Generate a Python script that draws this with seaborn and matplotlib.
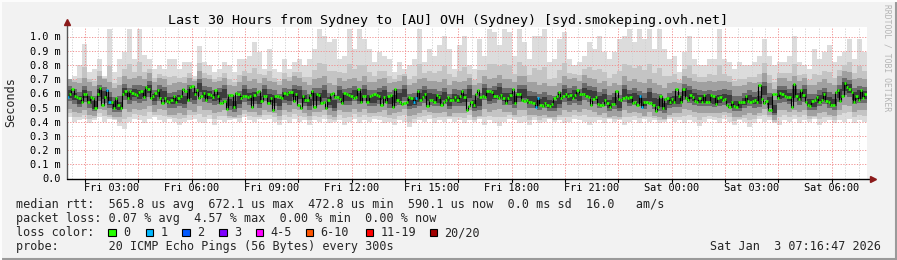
import numpy as np
import pandas as pd
import matplotlib
matplotlib.use("Agg")
import matplotlib.pyplot as plt
import seaborn as sns
from matplotlib.lines import Line2D
from matplotlib.patches import Rectangle

# ---------------- data (values in milliseconds) ----------------
title = "Last 30 Hours from Sydney to [AU] OVH (Sydney) [syd.smokeping.ovh.net]"
time_start_h = 1.32     # hours after Fri 00:00 at left edge
time_end_h = 31.31      # Sat 07:19
tick_hours = [3, 6, 9, 12, 15, 18, 21, 24, 27, 30]
tick_labels = ["Fri 03:00", "Fri 06:00", "Fri 09:00", "Fri 12:00", "Fri 15:00",
               "Fri 18:00", "Fri 21:00", "Sat 00:00", "Sat 03:00", "Sat 06:00"]
y_ticks = [0.0, 0.1, 0.2, 0.3, 0.4, 0.5, 0.6, 0.7, 0.8, 0.9, 1.0]

median_a = [0.573, 0.596, 0.627, 0.58, 0.573, 0.566, 0.538, 0.592, 0.592, 0.542, 0.573, 0.566,
            0.495, 0.596, 0.636, 0.521, 0.573, 0.625, 0.538, 0.538, 0.495, 0.566, 0.521, 0.495,
            0.596, 0.613, 0.566, 0.613, 0.601, 0.596, 0.585, 0.608, 0.613, 0.573, 0.643, 0.632,
            0.566, 0.58, 0.601, 0.62, 0.566, 0.531, 0.566, 0.549, 0.542, 0.554, 0.578, 0.538,
            0.566, 0.578, 0.632, 0.613, 0.556, 0.643, 0.648, 0.592, 0.625, 0.566, 0.578, 0.601,
            0.556, 0.596, 0.585, 0.573, 0.62, 0.578, 0.531, 0.531, 0.545, 0.486, 0.589, 0.589,
            0.502, 0.601, 0.596, 0.566, 0.578, 0.578, 0.573, 0.58, 0.507, 0.585, 0.608, 0.615]
median_b = [0.549, 0.58, 0.58, 0.531, 0.566, 0.479, 0.578, 0.578, 0.573, 0.566, 0.601, 0.592,
            0.608, 0.608, 0.549, 0.592, 0.521, 0.495, 0.578, 0.556, 0.556, 0.585, 0.615, 0.502,
            0.592, 0.585, 0.531, 0.542, 0.495, 0.556, 0.592, 0.601, 0.573, 0.573, 0.561, 0.531,
            0.601, 0.596, 0.585, 0.578, 0.566, 0.573, 0.632, 0.542, 0.578, 0.58, 0.538, 0.578,
            0.585, 0.596, 0.585, 0.578, 0.521, 0.573, 0.542, 0.578, 0.585, 0.502, 0.632, 0.556,
            0.542, 0.526, 0.531, 0.542, 0.573, 0.566, 0.542, 0.566, 0.613, 0.556, 0.573, 0.596,
            0.514, 0.556, 0.556, 0.542, 0.585, 0.573, 0.521, 0.538, 0.556, 0.573, 0.556, 0.556,
            0.573, 0.556]
median_c = [0.578, 0.615, 0.573, 0.479, 0.514, 0.538, 0.521, 0.592, 0.62, 0.573, 0.578, 0.573,
            0.615, 0.615, 0.608, 0.578, 0.578, 0.566, 0.585, 0.566, 0.531, 0.566, 0.585, 0.627,
            0.533, 0.596, 0.596, 0.554, 0.549, 0.556, 0.542, 0.538, 0.531, 0.502, 0.568, 0.521,
            0.514, 0.533, 0.521, 0.514, 0.526, 0.566, 0.578, 0.608, 0.566, 0.578, 0.596, 0.58,
            0.585, 0.566, 0.585, 0.62, 0.596, 0.592, 0.596, 0.578, 0.573, 0.521, 0.561, 0.573,
            0.526, 0.521, 0.521, 0.556, 0.533, 0.502, 0.526, 0.526, 0.613, 0.561, 0.556, 0.566,
            0.573, 0.566, 0.573, 0.533, 0.542, 0.521, 0.58, 0.507, 0.538, 0.538, 0.531, 0.531,
            0.521, 0.472, 0.507, 0.578]
median_d = [0.495, 0.561, 0.566, 0.538, 0.561, 0.538, 0.632, 0.578, 0.542, 0.632, 0.566, 0.556,
            0.585, 0.573, 0.549, 0.542, 0.568, 0.538, 0.585, 0.542, 0.542, 0.585, 0.578, 0.526,
            0.566, 0.573, 0.556, 0.561, 0.521, 0.502, 0.542, 0.514, 0.502, 0.538, 0.538, 0.538,
            0.578, 0.549, 0.542, 0.549, 0.556, 0.538, 0.655, 0.561, 0.531, 0.549, 0.484, 0.479,
            0.596, 0.596, 0.566, 0.603, 0.596, 0.578, 0.573, 0.573, 0.502, 0.662, 0.578, 0.561,
            0.62, 0.585, 0.542, 0.521, 0.51, 0.549, 0.554, 0.573, 0.538, 0.556, 0.596, 0.549,
            0.538, 0.521, 0.521, 0.608, 0.625, 0.549, 0.58, 0.671, 0.643, 0.632, 0.608, 0.542,
            0.58, 0.556, 0.62, 0.566, 0.596]
median = median_a + median_b + median_c + median_d
# steps where 1 of 20 pings was lost
loss_one_steps = [0, 17, 18, 150, 151, 203, 204, 248, 249]

# smoke: 160 coarser steps
smoke_hi = [0.70, 0.725, 0.80, 0.95, 0.75, 0.772, 0.843, 0.725, 1.05, 0.75, 0.843, 0.89, 1.05, 0.843,
            1.05, 0.87, 0.843, 0.772, 0.796, 0.772, 0.843, 0.843, 0.772, 0.819, 0.819, 0.725, 0.93,
            0.819, 0.796, 0.749, 0.772, 0.819, 0.796, 0.749, 0.843, 0.843, 0.866, 0.96, 0.89, 0.772,
            0.913, 0.772, 0.749, 0.843, 0.772, 0.819, 0.843, 0.796, 0.843, 0.913, 1.05, 1.007, 0.96,
            0.984, 0.843, 0.866, 1.05, 0.913, 1.05, 0.984, 0.913, 0.819, 0.89, 0.866, 0.843, 0.749,
            0.819, 0.772, 0.796, 0.843, 1.05, 0.819, 0.913, 0.866, 0.937, 1.007, 0.913, 0.772, 0.937,
            1.007,
            0.796, 0.772, 0.984, 0.866, 1.05, 1.03, 0.937, 1.05, 1.03, 0.866, 1.05, 0.96, 0.843, 1.007,
            1.007, 1.05, 0.819, 0.843, 0.984, 1.03, 0.843, 0.796, 0.819, 0.866, 0.96, 0.913, 1.007,
            0.89, 0.843, 0.89, 0.984, 1.007, 1.05, 0.96, 1.05, 0.984, 1.05, 0.913, 1.05, 0.913,
            0.843, 0.866, 0.749, 0.89, 1.007, 0.843, 0.796, 0.796, 0.843, 0.843, 1.05, 0.843, 0.819,
            0.772, 0.819, 0.796, 0.796, 0.819, 0.866, 0.984, 0.866, 0.796, 0.819, 0.819, 0.866, 1.007,
            0.819, 0.796, 0.772, 0.913, 0.843, 0.89, 0.937, 0.819, 0.866, 0.89, 0.984, 0.843, 0.984,
            0.89]
smoke_q_hi = [0.70, 0.68, 0.67, 0.71, 0.68, 0.65, 0.72, 0.70, 0.68, 0.64, 0.66, 0.72, 0.70, 0.71,
              0.72, 0.70, 0.74, 0.68, 0.71, 0.70, 0.66, 0.67, 0.68, 0.67, 0.71, 0.69, 0.76, 0.71,
              0.70, 0.68, 0.69, 0.71, 0.66, 0.65, 0.68, 0.72, 0.69, 0.70, 0.67, 0.71,
              0.69, 0.68, 0.66, 0.70, 0.69, 0.72, 0.71, 0.68, 0.66, 0.70, 0.71, 0.72, 0.67, 0.66,
              0.71, 0.69, 0.70, 0.71, 0.69, 0.72, 0.68, 0.68, 0.70, 0.71, 0.67, 0.68, 0.69, 0.72,
              0.66, 0.67, 0.70, 0.71, 0.69, 0.69, 0.68, 0.70, 0.66, 0.69, 0.68, 0.69,
              0.71, 0.66, 0.67, 0.72, 0.70, 0.71, 0.73, 0.70, 0.70, 0.68, 0.72, 0.72, 0.68, 0.68,
              0.66, 0.67, 0.65, 0.65, 0.67, 0.72, 0.70, 0.71, 0.69, 0.73, 0.71, 0.70, 0.67, 0.69,
              0.65, 0.67, 0.66, 0.72, 0.69, 0.70, 0.68, 0.67, 0.70, 0.67, 0.66, 0.64,
              0.67, 0.68, 0.67, 0.72, 0.71, 0.69, 0.68, 0.68, 0.69, 0.68, 0.69, 0.69, 0.68, 0.65,
              0.65, 0.66, 0.68, 0.67, 0.68, 0.74, 0.67, 0.63, 0.71, 0.71, 0.69, 0.72, 0.69, 0.71,
              0.66, 0.66, 0.68, 0.70, 0.67, 0.66, 0.72, 0.76, 0.75, 0.70, 0.71, 0.70]
smoke_mid = [0.596, 0.578, 0.55, 0.592, 0.55, 0.51, 0.60, 0.59, 0.54, 0.51, 0.50, 0.61, 0.58, 0.60,
             0.59, 0.60, 0.635, 0.57, 0.605, 0.59, 0.545, 0.545, 0.56, 0.55, 0.60, 0.585, 0.645,
             0.595, 0.59, 0.57, 0.58, 0.60, 0.53, 0.51, 0.55, 0.60, 0.57, 0.575, 0.55, 0.605,
             0.565, 0.56, 0.53, 0.578, 0.57, 0.6, 0.59, 0.56, 0.53, 0.57, 0.57, 0.592, 0.54, 0.52,
             0.59, 0.57, 0.57, 0.595, 0.575, 0.6, 0.56, 0.56, 0.58, 0.59, 0.55, 0.56, 0.57, 0.6,
             0.535, 0.54, 0.565, 0.59, 0.57, 0.565, 0.555, 0.58, 0.535, 0.565, 0.56, 0.565,
             0.6, 0.52, 0.53, 0.61, 0.575, 0.59, 0.615, 0.57, 0.57, 0.545, 0.6, 0.6, 0.55, 0.545,
             0.53, 0.545, 0.52, 0.515, 0.545, 0.6, 0.57, 0.59, 0.57, 0.61, 0.595, 0.585, 0.55,
             0.565, 0.52, 0.54, 0.52, 0.6, 0.56, 0.568, 0.555, 0.535, 0.575, 0.537, 0.525, 0.5,
             0.54, 0.55, 0.55, 0.61, 0.59, 0.57, 0.56, 0.555, 0.56, 0.55, 0.555, 0.567, 0.56, 0.515,
             0.515, 0.538, 0.56, 0.545, 0.55, 0.62, 0.54, 0.48, 0.59, 0.597, 0.575, 0.6, 0.57, 0.6,
             0.53, 0.525, 0.56, 0.58, 0.546, 0.53, 0.6, 0.65, 0.635, 0.58, 0.59, 0.59]
smoke_q_lo = [0.49, 0.47, 0.46, 0.48, 0.45, 0.44, 0.49, 0.48, 0.45, 0.43, 0.43, 0.49, 0.47, 0.49,
              0.48, 0.49, 0.51, 0.47, 0.49, 0.48, 0.45, 0.45, 0.46, 0.45, 0.48, 0.47, 0.51, 0.48,
              0.48, 0.46, 0.47, 0.48, 0.44, 0.43, 0.45, 0.48, 0.47, 0.47, 0.45, 0.48,
              0.47, 0.46, 0.44, 0.48, 0.47, 0.49, 0.48, 0.46, 0.44, 0.47, 0.47, 0.48, 0.45, 0.43,
              0.48, 0.47, 0.47, 0.49, 0.47, 0.49, 0.46, 0.46, 0.47, 0.48, 0.45, 0.46, 0.47, 0.49,
              0.44, 0.45, 0.46, 0.48, 0.47, 0.46, 0.46, 0.47, 0.44, 0.46, 0.46, 0.46,
              0.48, 0.43, 0.44, 0.49, 0.47, 0.48, 0.49, 0.47, 0.47, 0.45, 0.48, 0.48, 0.45, 0.45,
              0.44, 0.45, 0.43, 0.43, 0.45, 0.48, 0.47, 0.48, 0.47, 0.49, 0.48, 0.47, 0.45, 0.46,
              0.43, 0.44, 0.43, 0.48, 0.46, 0.47, 0.46, 0.44, 0.47, 0.44, 0.43, 0.42,
              0.45, 0.46, 0.46, 0.49, 0.48, 0.47, 0.46, 0.46, 0.46, 0.46, 0.46, 0.47, 0.46, 0.43,
              0.43, 0.45, 0.46, 0.45, 0.46, 0.49, 0.45, 0.41, 0.48, 0.48, 0.47, 0.48, 0.47, 0.48,
              0.44, 0.44, 0.46, 0.47, 0.45, 0.44, 0.48, 0.52, 0.51, 0.47, 0.48, 0.48]
smoke_lo = [0.43, 0.40, 0.41, 0.42, 0.39, 0.41, 0.43, 0.40, 0.42, 0.41, 0.37, 0.35, 0.40, 0.42,
            0.41, 0.39, 0.42, 0.43, 0.41, 0.40, 0.42, 0.40, 0.38, 0.40, 0.41, 0.42, 0.40, 0.39,
            0.42, 0.38, 0.41, 0.40, 0.41, 0.42, 0.40, 0.43, 0.41, 0.40, 0.42, 0.41,
            0.42, 0.40, 0.38, 0.41, 0.39, 0.42, 0.40, 0.41, 0.38, 0.41, 0.40, 0.42, 0.39, 0.40,
            0.41, 0.38, 0.40, 0.42, 0.39, 0.41, 0.40, 0.42, 0.41, 0.39, 0.40, 0.38, 0.41, 0.40,
            0.36, 0.39, 0.41, 0.40, 0.42, 0.39, 0.41, 0.40, 0.42, 0.40, 0.41, 0.39,
            0.41, 0.40, 0.42, 0.38, 0.41, 0.39, 0.37, 0.40, 0.42, 0.41, 0.39, 0.40, 0.38, 0.41,
            0.39, 0.40, 0.42, 0.40, 0.41, 0.39, 0.40, 0.42, 0.41, 0.40, 0.38, 0.40, 0.41, 0.39,
            0.42, 0.40, 0.41, 0.38, 0.40, 0.41, 0.39, 0.42, 0.40, 0.41, 0.39, 0.40,
            0.42, 0.40, 0.41, 0.39, 0.41, 0.40, 0.37, 0.40, 0.42, 0.41, 0.39, 0.42, 0.40, 0.38,
            0.41, 0.40, 0.36, 0.39, 0.42, 0.40, 0.41, 0.39, 0.38, 0.41, 0.40, 0.42, 0.39, 0.41,
            0.40, 0.42, 0.38, 0.40, 0.41, 0.39, 0.41, 0.40, 0.42, 0.39, 0.41, 0.40]

legend_lines = [
    "median rtt:  565.8 us avg  672.1 us max  472.8 us min  590.1 us now  0.0 ms sd  16.0   am/s",
    "packet loss: 0.07 % avg  4.57 % max  0.00 % min  0.00 % now",
    "loss color:",
    "probe:       20 ICMP Echo Pings (56 Bytes) every 300s",
]
loss_labels = ["0", "1", "2", "3", "4-5", "6-10", "11-19", "20/20"]
loss_colors = ["#26ff00", "#00b8ff", "#0059ff", "#7e00ff", "#ff00ff", "#ff5500", "#ff0000", "#a10000"]
date_text = "Sat Jan  3 07:16:47 2026"
watermark = "RRDTOOL / TOBI OETIKER"

# ---------------- figure ----------------
sns.set_theme(style="white")
MONO = ["DejaVu Sans Mono"]
plt.rcParams["font.family"] = MONO

W, H = 897, 260
fig = plt.figure(figsize=(W / 100, H / 100), dpi=100, facecolor="#f2f2f2")
fx = lambda px: px / W
fy = lambda py: 1 - py / H

ax_bot, ax_top = 178.5, 27.0
ax = fig.add_axes([fx(66.7), fy(ax_bot), (866.8 - 66.7) / W, (ax_bot - ax_top) / H])
ax.set_facecolor("white")
ymax = (ax_bot - ax_top) / 142.0
ax.set_xlim(time_start_h, time_end_h)
ax.set_ylim(0, ymax)
for s in ax.spines.values():
    s.set_visible(False)

span = time_end_h - time_start_h
n_s = len(smoke_hi)
dt_s = span / n_s
t_s = time_start_h + dt_s * np.arange(n_s + 1)

def ext(a):
    a = np.asarray(a, float)
    return np.append(a, a[-1])

hi, qh, mid, ql, lo = map(ext, (smoke_hi, smoke_q_hi, smoke_mid, smoke_q_lo, smoke_lo))
layers = [
    (lo, hi, "#dcdcdc"),
    ((lo + ql) / 2, qh + 0.3 * (hi - qh), "#c4c4c4"),
    (ql, qh, "#a0a0a0"),
    ((ql + mid) / 2, (qh + mid) / 2, "#6c6c6c"),
    ((ql + 3 * mid) / 4, (qh + 3 * mid) / 4, "#3c3c3c"),
]
for i, (a, b, c) in enumerate(layers):
    ax.fill_between(t_s, a, b, step="post", color=c, lw=0, zorder=2 + i * 0.1 + (1 if i else 0))

# grid
dots = (0, (1.2, 1.6))
for h in np.arange(1.5, 31.5, 0.5):
    if h % 2 == 0:
        continue
    ax.axvline(h, color="#d2d2d2", lw=0.7, ls=dots, zorder=2.5)
for h in range(2, 32, 2):
    ax.axvline(h, color="#f09090", lw=0.7, ls=dots, zorder=2.6)
for v in y_ticks[1:]:
    ax.axhline(v, color="#f09090", lw=0.7, ls=dots, zorder=2.6)

# median line
n_m = len(median)
dt_m = span / n_m
t_m = time_start_h + dt_m * np.arange(n_m)
df = pd.DataFrame({"t": np.append(t_m, time_end_h), "rtt": median + [median[-1]]})
sns.lineplot(data=df, x="t", y="rtt", drawstyle="steps-post", color="black", lw=0.8,
             ax=ax, zorder=5, legend=False, errorbar=None)
cols = [loss_colors[1] if i in loss_one_steps else loss_colors[0] for i in range(n_m)]
ax.hlines(median, t_m, t_m + dt_m, colors=cols, lw=1.9, zorder=6)

# ticks
ax.set_xticks(tick_hours)
ax.set_xticklabels(tick_labels, fontsize=7.4, family=MONO)
ax.set_yticks(y_ticks)
ax.set_yticklabels(["0.0"] + [f"{v:.1f} m" for v in y_ticks[1:]], fontsize=7.4, family=MONO)
ax.tick_params(axis="x", length=0, pad=3.2, colors="black")
ax.tick_params(axis="y", length=0, pad=4.6, colors="black")
ax.set_xlabel("")
ax.set_ylabel("")
ax.grid(False)

# axes lines and arrows
ax.plot([0, 0], [0, 1 + 3 / 151], transform=ax.transAxes, color="#555555", lw=1, clip_on=False, zorder=7)
ax.plot([0, 1 + 3 / 800], [0, 0], transform=ax.transAxes, color="black", lw=1, clip_on=False, zorder=7)
ax.plot([0], [1 + 5 / 151], marker="^", ms=5, color="#8b1a1a", transform=ax.transAxes, clip_on=False, zorder=8)
ax.plot([1 + 6 / 800], [0], marker=">", ms=5, color="#8b1a1a", transform=ax.transAxes, clip_on=False, zorder=8)
for h in range(2, 32, 2):
    ax.plot([h, h], [0, -3 / 142], color="black", lw=0.8, clip_on=False, zorder=7)

# texts
fig.text(fx(447.5), fy(24), title, ha="center", va="baseline", fontsize=9.6, family=MONO, color="black")
fig.text(fx(11), fy(102.5), "Seconds", rotation=90, ha="center", va="center", fontsize=8.5, family=MONO)
fig.text(fx(887), fy(4), watermark, rotation=270, ha="center", va="top", fontsize=5.8,
         family=MONO, color="#b4b4b4")
baselines = [208, 222, 236, 250]
for line, b in zip(legend_lines, baselines):
    fig.text(fx(15.5), fy(b), line, ha="left", va="baseline", fontsize=8.5, family=MONO)
box_x = [108.3, 145.7, 182.3, 219.3, 256, 306, 365.7, 430]
for bx, lab, c in zip(box_x, loss_labels, loss_colors):
    fig.add_artist(Rectangle((fx(bx), fy(236)), 7.4 / W, 7.4 / H, facecolor=c, edgecolor="black",
                             lw=0.8, transform=fig.transFigure))
    fig.text(fx(bx + 14.5), fy(236), lab, ha="left", va="baseline", fontsize=8.5, family=MONO)
fig.text(fx(880.5), fy(250), date_text, ha="right", va="baseline", fontsize=8.5, family=MONO)

# 3D frame
fig.add_artist(Line2D([0, 1], [fy(258.5), fy(258.5)], color="#9a9a9a", lw=1.5, transform=fig.transFigure))
fig.add_artist(Line2D([fx(895.5), fx(895.5)], [0, 1], color="#9a9a9a", lw=1.5, transform=fig.transFigure))
fig.add_artist(Line2D([0, 1], [fy(0.5), fy(0.5)], color="#fcfcfc", lw=1.5, transform=fig.transFigure))
fig.add_artist(Line2D([fx(0.5), fx(0.5)], [0, 1], color="#fcfcfc", lw=1.5, transform=fig.transFigure))

fig.savefig("out.png", dpi=100, facecolor=fig.get_facecolor())
